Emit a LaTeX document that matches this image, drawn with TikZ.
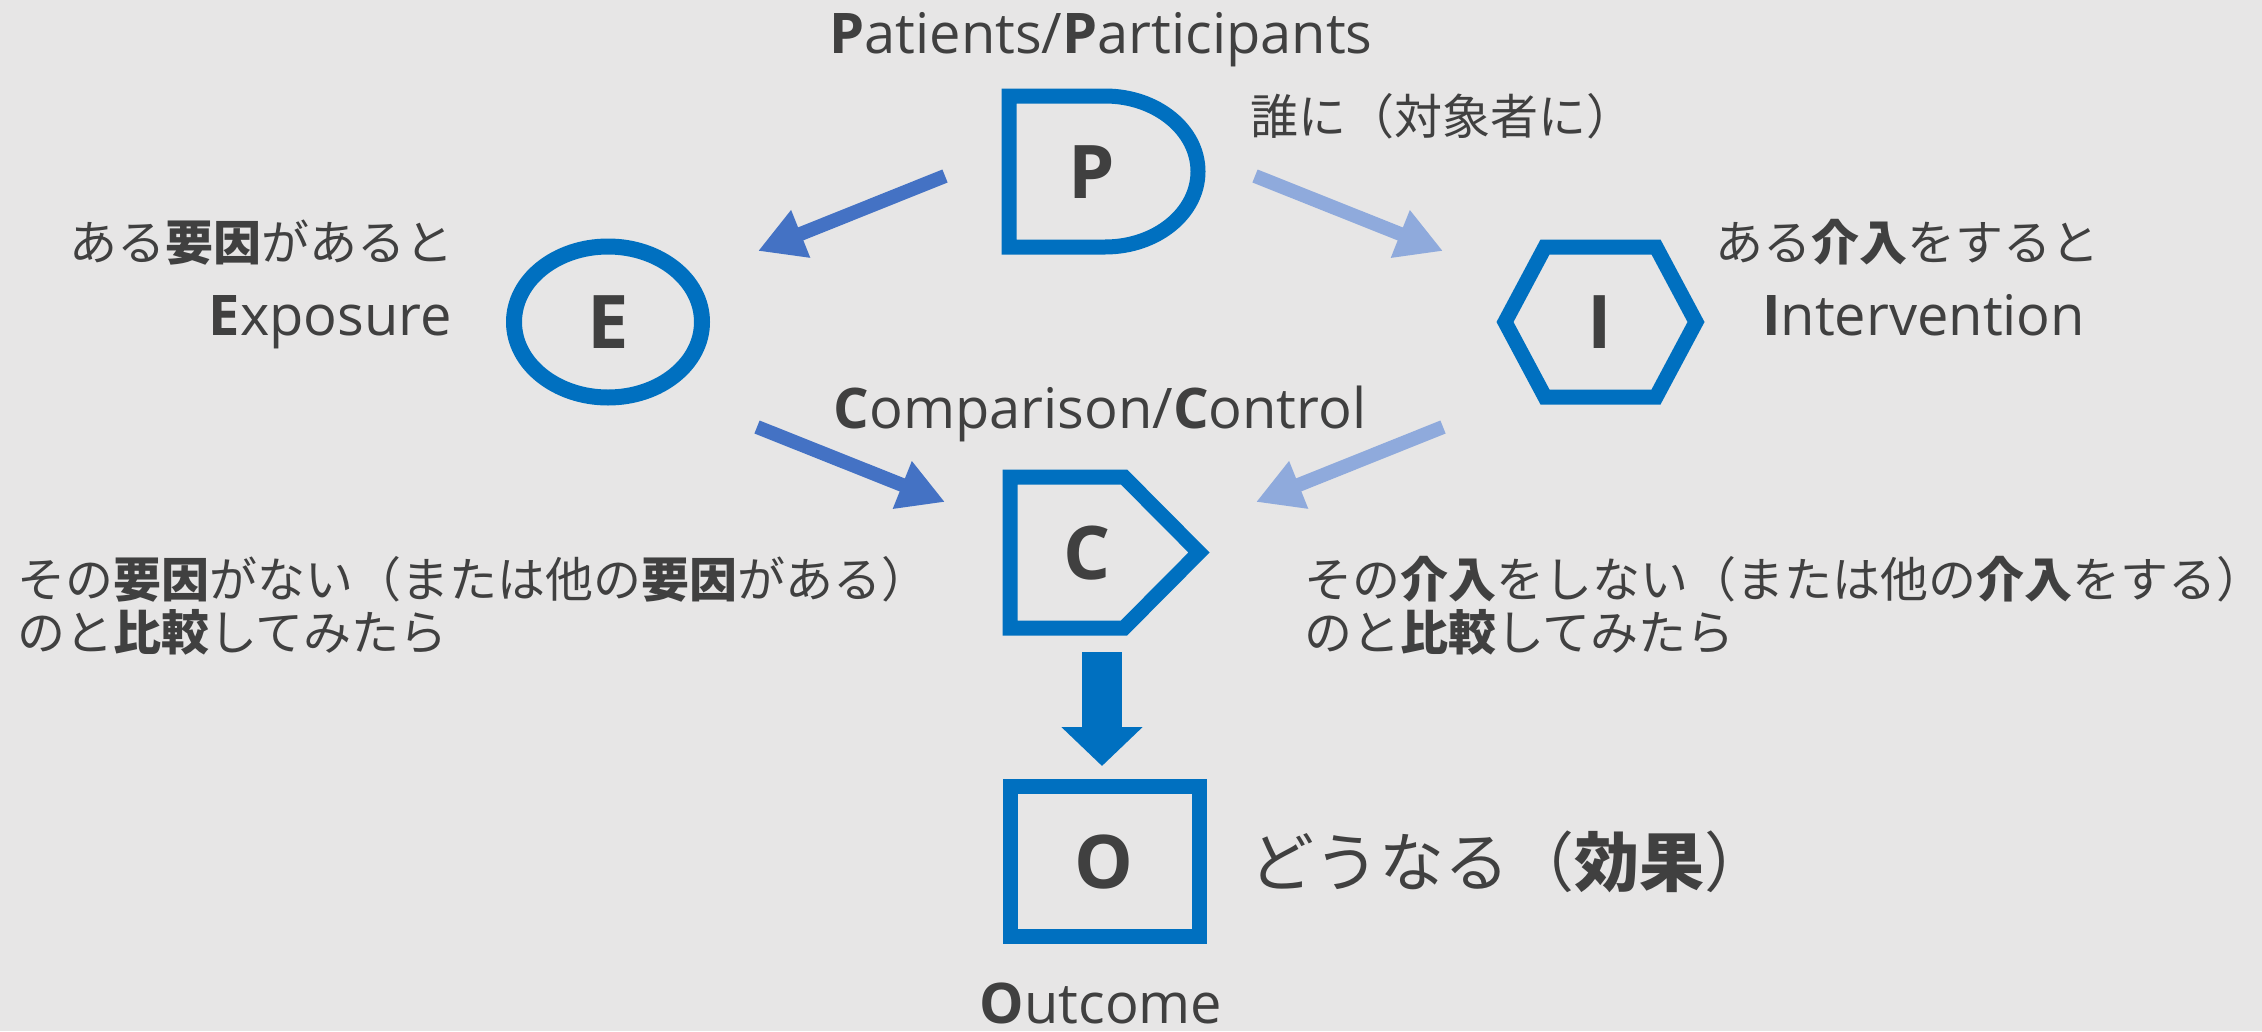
\documentclass[tikz,border=0pt]{standalone}
\usepackage{fontspec}
\setmainfont{Open Sans}
\newfontfamily\jp{Noto Sans CJK JP}
\usetikzlibrary{arrows.meta,shapes.geometric}
\definecolor{bgGray}{HTML}{E7E6E6}
\definecolor{frameBlue}{HTML}{0070C0}
\definecolor{inkGray}{HTML}{404040}
\definecolor{blueDark}{HTML}{4472C4}
\definecolor{blueLight}{HTML}{8FAADC}
\begin{document}
\begin{tikzpicture}[x=1pt,y=-1pt,
  frameline/.style={draw=frameBlue,line width=15pt,line join=miter},
  letter/.style={text=inkGray,font=\fontsize{74}{80}\selectfont\bfseries,inner sep=0pt},
  latin/.style={text=inkGray,font=\fontsize{56}{62}\selectfont,inner sep=0pt},
  jtext/.style={text=inkGray,font=\jp\fontsize{48}{53}\selectfont,inner sep=0pt},
  flow/.style={line width=14pt,-{Triangle[width=48pt,length=46pt]}},
]
% canvas
\fill[bgGray] (0,0) rectangle (2262,1031);
\useasboundingbox (0,0) rectangle (2262,1031);

% P: delay-shaped frame
\draw[frameline] (1009,96) -- (1105,96)
  .. controls (1156.4,96) and (1198,129.8) .. (1198,171.5)
  .. controls (1198,213.2) and (1156.4,247) .. (1105,247)
  -- (1009,247) -- cycle;
\node[letter] (P) at (1092,172) {P};

% E: ellipse
\node[ellipse, draw=frameBlue, line width=16pt, minimum width=188pt,
      minimum height=151pt, inner sep=0pt, text=inkGray,
      font=\fontsize{74}{80}\selectfont\bfseries] (E) at (608,322) {E};

% I: hexagon
\draw[frameline] (1505,322) -- (1545,247) -- (1656,247) -- (1696,322)
  -- (1656,397) -- (1545,397) -- cycle;
\node[letter] (I) at (1600,322) {I};

% C: pentagon pointing right
\draw[frameline] (1010,477) -- (1124,477) -- (1199,552.5) -- (1124,628)
  -- (1010,628) -- cycle;
\node[letter] (C) at (1087,553) {C};

% O: square frame
\draw[frameline] (1010,786) rectangle (1199,936);
\node[letter] (O) at (1104,862) {O};

% arrow end points
\coordinate (pe0) at (945,176);  \coordinate (pe1) at (758,251);
\coordinate (pi0) at (1255,176); \coordinate (pi1) at (1443,251);
\coordinate (ec0) at (757,427);  \coordinate (ec1) at (945,502);
\coordinate (ic0) at (1443,427); \coordinate (ic1) at (1256,502);
\coordinate (co0) at (1102,652); \coordinate (co1) at (1102,766);

\draw[flow,blueDark] (pe0) -- (pe1);
\draw[flow,blueLight] (pi0) -- (pi1);
\draw[flow,blueDark] (ec0) -- (ec1);
\draw[flow,blueLight] (ic0) -- (ic1);
\draw[line width=40pt,frameBlue,-{Triangle[width=79pt,length=39pt]}] (co0) -- (co1);

% labels
\node[latin, anchor=base] (pp) at (1101,53) {\textbf{P}atients/\textbf{P}articipants};
\node[latin, anchor=base] (cc) at (1100,428) {\textbf{C}omparison/\textbf{C}ontrol};
\node[latin, anchor=base] (oc) at (1101,1023) {\textbf{O}utcome};
\node[latin, anchor=base east] (ex) at (452,335) {\textbf{E}xposure};
\node[latin, anchor=base west] (iv) at (1762,335) {\textbf{I}ntervention};

\node[jtext, anchor=base west] (pj) at (1250,134) {誰に（対象者に）};
\node[jtext, anchor=base east] (ej) at (454,260) {ある{\bfseries 要因}があると};
\node[jtext, anchor=base west] (ij) at (1715,260) {ある{\bfseries 介入}をすると};
\node[jtext, anchor=base west] (cl1) at (17,597) {その{\bfseries 要因}がない（または他の{\bfseries 要因}がある）};
\node[jtext, anchor=base west] (cl2) at (17,650) {のと{\bfseries 比較}してみたら};
\node[jtext, anchor=base west] (cr1) at (1304,597) {その{\bfseries 介入}をしない（または他の{\bfseries 介入}をする）};
\node[jtext, anchor=base west] (cr2) at (1304,650) {のと{\bfseries 比較}してみたら};
\node[jtext, font=\jp\fontsize{65}{72}\selectfont, anchor=base west] (oj) at (1249,886) {どうなる（{\bfseries 効果}）};
\end{tikzpicture}
\end{document}
